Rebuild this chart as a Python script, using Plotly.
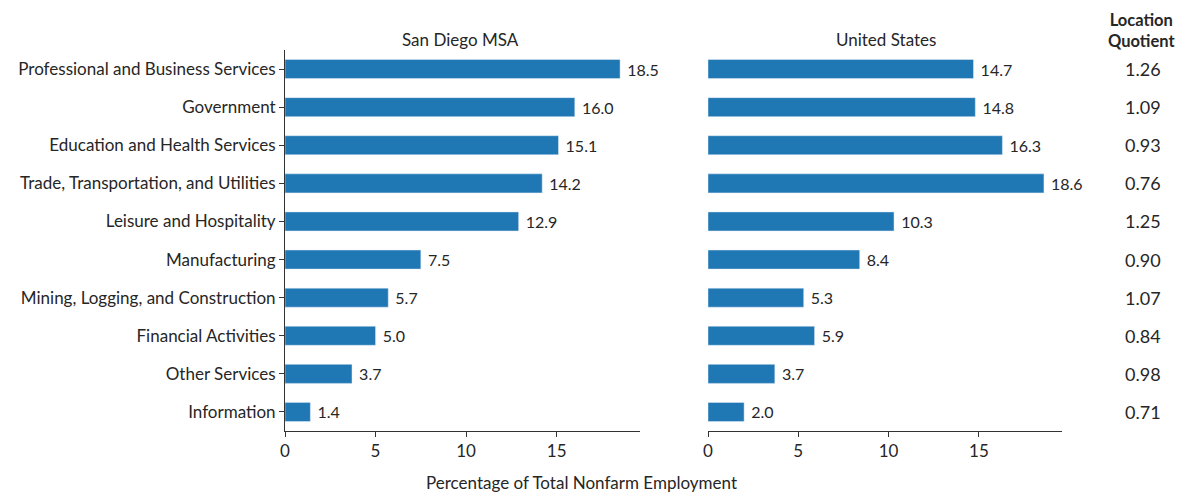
import plotly.graph_objects as go

categories = [
    "Professional and Business Services",
    "Government",
    "Education and Health Services",
    "Trade, Transportation, and Utilities",
    "Leisure and Hospitality",
    "Manufacturing",
    "Mining, Logging, and Construction",
    "Financial Activities",
    "Other Services",
    "Information",
]
san_diego = [18.5, 16.0, 15.1, 14.2, 12.9, 7.5, 5.7, 5.0, 3.7, 1.4]
united_states = [14.7, 14.8, 16.3, 18.6, 10.3, 8.4, 5.3, 5.9, 3.7, 2.0]
location_quotient = ["1.26", "1.09", "0.93", "0.76", "1.25", "0.90", "1.07", "0.84", "0.98", "0.71"]
x_ticks = [0, 5, 10, 15]

FONT = "Lato"
FS = 17
BAR = "#1f77b4"
TXT = "#262626"
OFF = 8  # default page body margin
W, H = 1187 - OFF, 493 - OFF


def px(x):
    return (x - OFF) / W


def py(y):
    return 1 - (y - OFF) / H


fig = go.Figure()
fig.add_trace(go.Bar(
    y=categories, x=san_diego, orientation="h", marker_color=BAR, width=0.5,
    text=[f" {v:.1f}" for v in san_diego], textposition="outside", constraintext="none",
    textfont=dict(family=FONT, size=FS - 1, color=TXT), cliponaxis=False,
    xaxis="x", yaxis="y", showlegend=False,
))
fig.add_trace(go.Bar(
    y=categories, x=united_states, orientation="h", marker_color=BAR, width=0.5,
    text=[f" {v:.1f}" for v in united_states], textposition="outside", constraintext="none",
    textfont=dict(family=FONT, size=FS - 1, color=TXT), cliponaxis=False,
    xaxis="x2", yaxis="y2", showlegend=False,
))

for c, q in zip(categories, location_quotient):
    fig.add_annotation(x=px(1143), xref="paper", xanchor="center", y=c, yref="y",
                       yanchor="middle", text=q, showarrow=False,
                       font=dict(family=FONT, size=FS + 1, color=TXT))

fig.add_annotation(x=px(1141), xref="paper", xanchor="center", y=py(30.5), yref="paper",
                   yanchor="middle", text="<b>Location<br>Quotient</b>", showarrow=False,
                   font=dict(family=FONT, size=16.5, color=TXT))
fig.add_annotation(x=px(460), xref="paper", xanchor="center", y=py(40), yref="paper",
                   yanchor="middle", text="San Diego MSA", showarrow=False,
                   font=dict(family=FONT, size=FS, color=TXT))
fig.add_annotation(x=px(886), xref="paper", xanchor="center", y=py(40), yref="paper",
                   yanchor="middle", text="United States", showarrow=False,
                   font=dict(family=FONT, size=FS, color=TXT))
fig.add_annotation(x=px(581), xref="paper", xanchor="center", y=py(482), yref="paper",
                   yanchor="middle", text="Percentage of Total Nonfarm Employment",
                   showarrow=False, font=dict(family=FONT, size=FS, color=TXT))

axis_common = dict(range=[0, 19.6], tickvals=x_ticks, showgrid=False, zeroline=False,
                   showline=True, linecolor="#333", linewidth=1, ticks="outside",
                   ticklen=5, tickcolor="#333", automargin=False,
                   tickfont=dict(family=FONT, size=FS, color=TXT))

ydom = [py(431), py(50)]

fig.update_layout(
    width=W, height=H,
    margin=dict(l=0, r=0, t=0, b=0, autoexpand=False),
    plot_bgcolor="white", paper_bgcolor="white",
    xaxis=dict(domain=[px(285), px(640)], anchor="y", **axis_common),
    xaxis2=dict(domain=[px(708), px(1062)], anchor="y2", **axis_common),
    yaxis=dict(domain=ydom, autorange=False, range=[9.5, -0.5],
               categoryorder="array", categoryarray=categories, automargin=False,
               showline=True, linecolor="#333", linewidth=1, ticks="outside",
               ticklen=5, tickcolor="#333", showgrid=False,
               tickfont=dict(family=FONT, size=FS, color=TXT)),
    yaxis2=dict(domain=ydom, anchor="x2", autorange=False,
                range=[9.5, -0.5], automargin=False,
                categoryorder="array", categoryarray=categories,
                showticklabels=False, showline=False, showgrid=False, ticks=""),
    bargap=0.5,
)

fig.write_html("out.html")
